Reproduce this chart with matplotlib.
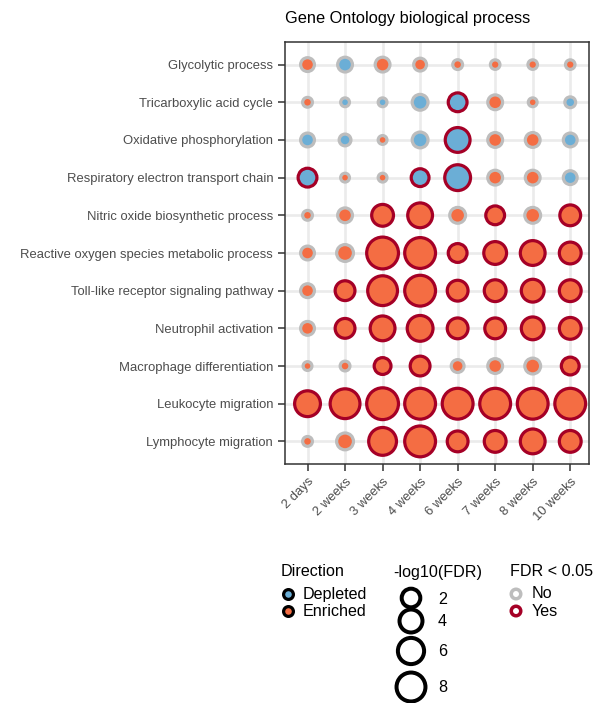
import numpy as np
import matplotlib
matplotlib.use("Agg")
import matplotlib.pyplot as plt

plt.rcParams['font.family'] = ['Liberation Sans', 'DejaVu Sans']

# data
processes = ['Glycolytic process', 'Tricarboxylic acid cycle', 'Oxidative phosphorylation',
             'Respiratory electron transport chain', 'Nitric oxide biosynthetic process',
             'Reactive oxygen species metabolic process', 'Toll-like receptor signaling pathway',
             'Neutrophil activation', 'Macrophage differentiation', 'Leukocyte migration',
             'Lymphocyte migration']
timepoints = ['2 days', '2 weeks', '3 weeks', '4 weeks', '6 weeks', '7 weeks', '8 weeks', '10 weeks']

# -log10(FDR), one row per process
neglog_fdr = [
    [0.81, 1.03, 1.03, 0.63, 0.32, 0.31, 0.31, 0.31],
    [0.32, 0.30, 0.30, 1.30, 2.34, 1.03, 0.30, 0.38],
    [0.81, 0.48, 0.30, 1.30, 5.52, 1.03, 1.03, 0.81],
    [2.34, 0.30, 0.30, 1.95, 6.20, 1.03, 1.03, 0.81],
    [0.32, 1.03, 3.75, 5.52, 1.30, 2.34, 1.30, 3.24],
    [0.81, 1.61, 11.1, 10.2, 2.34, 4.30, 5.52, 3.75],
    [0.81, 2.77, 9.30, 10.2, 3.24, 3.75, 4.30, 3.75],
    [0.81, 2.77, 5.52, 6.20, 3.24, 3.24, 4.30, 3.75],
    [0.30, 0.32, 1.61, 2.77, 0.63, 1.03, 1.30, 1.95],
    [6.20, 9.30, 11.1, 10.2, 10.2, 10.2, 10.2, 10.2],
    [0.32, 1.61, 7.67, 10.2, 3.24, 3.75, 5.52, 3.75],
]
# B = depleted, E = enriched
direction = [
    'EBEEEEEE',
    'EBBBBEEB',
    'BBEBBEEB',
    'BEEBBEEB',
    'EEEEEEEE',
    'EEEEEEEE',
    'EEEEEEEE',
    'EEEEEEEE',
    'EEEEEEEE',
    'EEEEEEEE',
    'EEEEEEEE',
]
significant = [
    '00000000',
    '00001000',
    '00001000',
    '10011000',
    '00110101',
    '00111111',
    '01111111',
    '01111111',
    '00110001',
    '11111111',
    '00111111',
]
size_breaks = [2, 4, 6, 8]

BLUE = '#6BAED6'
ORANGE = '#F46D43'
DARKRED = '#A50026'
GREY = '#BDBDBD'
STROKE = 3.2  # px


def diameter(v):
    # outer diameter in px
    return 12 + 7 * np.sqrt(np.maximum(np.asarray(v) - 0.3, 0))


def marker_s(d, w):
    return ((d - w) * 0.72) ** 2


W, H = 593, 703
fig = plt.figure(figsize=(W / 100, H / 100), dpi=100)
ax = fig.add_axes([285 / W, 1 - 464 / H, (589 - 285) / W, (464 - 42) / H])

vals = np.array(neglog_fdr)
nrow, ncol = vals.shape
xx, yy = np.meshgrid(np.arange(ncol), np.arange(nrow))
fill = np.array([[BLUE if c == 'B' else ORANGE for c in r] for r in direction])
edge = np.array([[DARKRED if c == '1' else GREY for c in r] for r in significant])

ax.scatter(xx.ravel(), yy.ravel(), s=marker_s(diameter(vals.ravel()), STROKE),
           c=fill.ravel(), edgecolors=edge.ravel(), linewidths=STROKE * 0.72, zorder=3)

ax.set_xlim(-0.6, 7.5)
ax.set_ylim(nrow - 0.4, -0.6)
ax.set_xticks(range(ncol))
ax.set_xticklabels(timepoints, rotation=45, ha='right', rotation_mode='anchor')
ax.set_yticks(range(nrow))
ax.set_yticklabels(processes)
ax.tick_params(axis='both', length=5, width=1.1, color='#333333', labelcolor='#4D4D4D',
               labelsize=9.35, pad=3.5)
ax.grid(True, color='#EBEBEB', lw=1.9, zorder=0)
ax.set_axisbelow(True)
for sp in ax.spines.values():
    sp.set_color('#333333')
    sp.set_linewidth(1.1)

fig.text(285 / W, 1 - 19 / H, 'Gene Ontology biological process', fontsize=11.8,
         ha='left', va='center')

# legends, drawn in a pixel-coordinate overlay
lg = fig.add_axes([0, 0, 1, 1])
lg.set_xlim(0, W)
lg.set_ylim(H, 0)
lg.axis('off')
fs = 11.6

lg.text(281, 572, 'Direction', fontsize=fs, va='center')
for lab, col, y in [('Depleted', BLUE, 594), ('Enriched', ORANGE, 611)]:
    lg.scatter([288], [y], s=marker_s(13, 3.2), c=col, edgecolors='black', linewidths=3.2 * 0.72)
    lg.text(303, y, lab, fontsize=fs, va='center')

lg.text(393, 572, '-log10(FDR)', fontsize=fs, va='center')
for b, y in zip(size_breaks, [598, 621, 651, 687]):
    d = diameter(b) + 1.5
    lg.scatter([411], [y], s=marker_s(d, 4), facecolors='none', edgecolors='black',
               linewidths=4 * 0.72)
    lg.text(438, y + 1, str(b), fontsize=fs, va='center')

lg.text(510, 572, 'FDR < 0.05', fontsize=fs, va='center')
for lab, col, y in [('No', GREY, 594), ('Yes', DARKRED, 611)]:
    lg.scatter([516], [y], s=marker_s(13, 3.5), facecolors='none', edgecolors=col,
               linewidths=3.5 * 0.72)
    lg.text(532, y, lab, fontsize=fs, va='center')

fig.savefig('out.png', dpi=100)
